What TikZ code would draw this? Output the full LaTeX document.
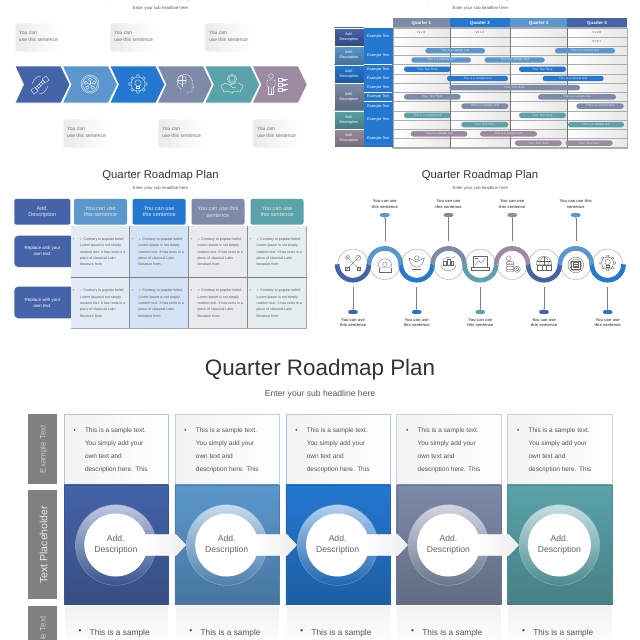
\documentclass[tikz,border=0pt]{standalone}
\usepackage{fontspec}
\setmainfont{Liberation Sans}
\newfontfamily\djv{DejaVu Sans}
\usetikzlibrary{arrows.meta}
\definecolor{cNavy}{HTML}{4463A8}
\definecolor{cSky}{HTML}{5B97CC}
\definecolor{cBlue}{HTML}{2478D0}
\definecolor{cSlate}{HTML}{7D8AA8}
\definecolor{cTeal}{HTML}{5AA3AA}
\definecolor{cMauve}{HTML}{9C8AA0}
\definecolor{cTxt}{HTML}{555555}
\definecolor{cTitle}{HTML}{333333}
\tikzset{
  tx/.style={inner sep=0pt,outer sep=0pt},
  bigtitle/.style={tx,text=cTitle,font=\fontsize{22.4}{23}\selectfont},
  bigsub/.style={tx,text=cTxt,font=\fontsize{8.6}{9}\selectfont},
  title/.style={tx,text=cTitle,font=\fontsize{11.3}{12}\selectfont},
  subt/.style={tx,text=cTxt,font=\fontsize{4.3}{4.5}\selectfont},
  callbox/.style={rounded corners=2.5pt,left color=black!8,right color=white,draw=white,line width=.8pt},
  calltxt/.style={tx,anchor=west,align=left,text=black!55,font=\fontsize{5}{6.6}\selectfont},
  chev/.style={draw=white,line width=.7pt},
  iconw/.style={color=white!85!cSky,line width=.4pt},
  icong/.style={color=black!60,line width=.35pt,scale=.85},
  ghead/.style={tx,text=white,font=\bfseries\fontsize{4.4}{5}\selectfont},
  glabel/.style={tx,text=white,align=center,font=\fontsize{3.7}{5}\selectfont},
  gmini/.style={tx,text=black!65,font=\fontsize{3}{3}\selectfont},
  gbar/.style={tx,rounded corners=2.6pt,minimum height=5.4pt,text=white!90!black,font=\fontsize{3.1}{3}\selectfont},
  hbox/.style={tx,rounded corners=2pt,text=white!90!black,align=center,font=\fontsize{5.6}{6.5}\selectfont},
  sidelbl/.style={tx,text=white,align=center,font=\fontsize{4.5}{6}\selectfont},
  celltxt/.style={tx,anchor=west,align=left,text=cTxt,font=\fontsize{3.55}{6.33}\selectfont},
  wavetxt/.style={tx,align=center,text=cTxt,font=\bfseries\fontsize{4.1}{5.7}\selectfont},
  pill/.style={tx,rounded corners=1.8pt,minimum width=10pt,minimum height=3.8pt},
  leader/.style={draw=black!50,line width=.35pt,-{Stealth[length=1.6pt,width=1.4pt]}},
  sidegray/.style={fill=black!50,draw=none},
  sidetxt/.style={tx,rotate=90,text=white!80!black,font=\fontsize{8}{8}\selectfont},
  sidetxtb/.style={tx,rotate=90,text=white!92!black,font=\fontsize{10.5}{10.5}\selectfont},
  bodytxt/.style={tx,anchor=west,align=left,text=cTxt,font=\fontsize{6.5}{12.9}\selectfont},
  bodytxtb/.style={tx,anchor=west,align=left,text=cTxt,font=\fontsize{8.3}{13}\selectfont},
  circtxt/.style={tx,align=center,text=black!62,font=\fontsize{8.6}{10.6}\selectfont},
  icChain/.pic={
    \draw (-9,5)--(-5,2)--(-2,6)--(-6,9)--cycle;
    \draw (9,-5)--(5,-2)--(2,-6)--(6,-9)--cycle;
    \foreach \t in {-3,-1,1,3} \draw (\t,-\t) circle[radius=1.9];
    \draw (-8,-1) .. controls (-6,-6) and (-3,-9) .. (1,-9);
    \draw (8,1) .. controls (6,6) and (3,9) .. (-1,9);
  },
  icWheel/.pic={
    \draw (0,0) circle[radius=9] (0,0) circle[radius=7.4];
    \foreach \a in {-90,-18,54,126,198} {\draw (\a:4.4) circle[radius=1.7]; \draw (0,0)--(\a:2.7);}
  },
  icGear/.pic={
    \draw (0,0) circle[radius=7];
    \foreach \a in {0,45,...,315} \draw (\a-10:7)--(\a-7:9.2)--(\a+7:9.2)--(\a+10:7);
    \draw (0,-1) circle[radius=3.2];
    \draw (-1.6,2) rectangle (1.6,4.6);
  },
  icHead/.pic={
    \draw (-3,9.5)--(-3,5) .. controls (-9,2) and (-8,-9) .. (0,-9.5) .. controls (7,-9.5) and (9,-4) .. (8,-1)--(10,3)--(8,4)--(8,8)--(3,8)--(3,9.5);
    \draw (-2,-4) circle[radius=4.4];
    \draw (-2,-8.4)--(-2,3) (-6,-4)--(2,-4);
  },
  icHands/.pic={
    \draw (0,-5) circle[radius=3] (0,-5) circle[radius=4.6];
    \draw (-11,2)--(-7,-1)--(-2,1)--(3,-1)--(7,-1)--(11,2)--(8,8)--(2,7)--(0,9)--(-3,7)--(-8,8)--cycle;
    \draw (-2,1)--(1,4)--(4,3);
  },
  icPerson/.pic={
    \draw (-7,-8) circle[radius=2.4];
    \draw[rounded corners=1pt] (-11,-4) rectangle (-3,3);
    \draw (-9.5,3)--(-9.5,10)--(-7,10)--(-7,4)--(-7,10)--(-4.5,10)--(-4.5,3);
    \foreach \y in {-6,-1,4} {\draw (0,\y) rectangle (4,\y+3.4); \draw (5,\y+1)--(10,\y+1) (5,\y+2.6)--(8,\y+2.6);}
  },
  icTools/.pic={
    \draw (-8,-8)--(8,8) (8,-8)--(-8,8);
    \draw (-6,-9)--(-9,-6)--(-7,-4)--(-4,-7)--cycle;
    \draw (5,5) rectangle (9,9) (-9,5) rectangle (-5,9);
    \draw (6,-6) circle[radius=3];
  },
  icPhone/.pic={
    \draw (-8,1) .. controls (-8,-10) and (8,-10) .. (8,1)--(5,3)--(-5,3)--cycle;
    \draw (0,-1) circle[radius=2.6];
    \draw (-7,3)--(-7,8)--(7,8)--(7,3);
  },
  icWings/.pic={
    \draw (-9,-6) .. controls (-8,2) and (-4,4) .. (0,5) .. controls (4,4) and (8,2) .. (9,-6) .. controls (5,-3) and (3,-4) .. (0,-1) .. controls (-3,-4) and (-5,-3) .. (-9,-6);
    \draw (0,-6) circle[radius=2.5];
    \draw (-5,7)--(5,7);
  },
  icBowl/.pic={
    \draw (-9,0) .. controls (-8,9) and (8,9) .. (9,0)--cycle;
    \draw (-6,0) rectangle (-3,-4) (-1.5,0) rectangle (1.5,-7) (3,0) rectangle (6,-5);
    \draw (-7,-6)--(-2,-9)--(3,-8)--(8,-10);
  },
  icLaptop/.pic={
    \draw (-8,-8) rectangle (8,5) (-10.5,5) rectangle (10.5,8);
    \draw (-6,2)--(-2,-3)--(1,0)--(6,-6);
    \draw (-6,-6)--(-3,-6);
  },
  icCoins/.pic={
    \draw (-4,-8) circle[radius=2.8];
    \foreach \y in {-4,-1,2,5} \draw[rounded corners=1pt] (-7,\y) rectangle (2,\y+3);
    \draw (6,5) circle[radius=3.6] (6,5) circle[radius=1.8];
  },
  icGlobe/.pic={
    \draw (-9,2) .. controls (-9,-11) and (9,-11) .. (9,2)--cycle;
    \draw (0,-7.5)--(0,2) (-8.5,-2)--(8.5,-2);
    \draw (0,-7.5) .. controls (-5,-6) and (-5,-1) .. (-5,2) (0,-7.5) .. controls (5,-6) and (5,-1) .. (5,2);
    \draw (-8,2) rectangle (8,8) (-2,2) rectangle (2,8);
  },
  icTarget/.pic={
    \draw (0,0) circle[radius=9.2] (0,0) circle[radius=7];
    \draw (-5,-5) rectangle (5,5) (-3,-3) rectangle (3,3);
    \draw (-3,-1)--(3,-1) (-3,1)--(3,1);
  },
}
\begin{document}
\begin{tikzpicture}[x=1pt,y=-1pt]
\useasboundingbox (0,0) rectangle (640,640);
\fill[white] (0,0) rectangle (640,640);
\clip (0,0) rectangle (640,640);

% ---------- Panel 1: chevrons
\node[title] (t1) at (161,-4) {Quarter Roadmap Plan};
\node[subt] (s1) at (160.5,8) {Enter your sub headline here};
\foreach \xx/\yy/\n in {15/23/a,110/23/b,205/23/c,63/119/d,158/119/e,253/119/f}{
  \shade[callbox] (\xx,\yy) rectangle ++(47,29);
  \node[calltxt] (call\n) at (\xx+4,\yy+13.5) {You can\\use this sentence};
}
\foreach \i/\c in {0/cNavy,1/cSky,2/cBlue,3/cSlate,4/cTeal,5/cMauve}{
  \pgfmathsetmacro\X{15+47.45*\i}
  \path[chev,fill=\c] (\X,66)--(\X+46,66)--(\X+55,84.5)--(\X+46,103)--(\X,103)--(\X+8.5,84.5)--cycle;
}
\pic[iconw] at (40,85) {icChain};
\pic[iconw] at (90,84) {icWheel};
\pic[iconw] at (138,84) {icGear};
\pic[iconw] at (184,84) {icHead};
\pic[iconw] at (232,84) {icHands};
\pic[iconw] at (278,84) {icPerson};

% ---------- Panel 2: gantt
\node[title] (t2) at (480,-4) {Quarter Roadmap Plan};
\node[subt] (s2) at (480.3,8) {Enter your sub headline here};
\foreach \a/\b/\c/\t in {392.7/450/cSlate/Quarter 1,450/510/cBlue/Quarter 2,510/567.3/cSky/Quarter 3,567.3/626.7/cNavy/Quarter 4}{
  \fill[\c] (\a,18) rectangle (\b,27.7);
  \shade[left color=white,right color=black!9,draw=black!32,line width=.4pt] (\a,27.7) rectangle (\b,147.7);
  \node[ghead] (h\a) at ({(\a+\b)/2},22.9) {\t};
}
\foreach \r in {0,...,13}{
  \pgfmathsetmacro\Y{27.7+9.23*\r}
  \draw[black!32,line width=.5pt] (392.7,\Y)--(626.7,\Y);
}
\foreach \a in {392.7,450,510,567.3}{\draw[black!55,line width=.45pt] (\a,27.7)--(\a,147.7);}
\foreach \p/\q/\c in {0/2/cNavy,2/4/cSky,4/6/cBlue,6/9/cSlate,9/11/cTeal,11/13/cMauve}{
  \pgfmathsetmacro\Ya{27.7+9.23*\p}
  \pgfmathsetmacro\Yb{27.7+9.23*\q}
  \shade[top color=\c,bottom color=\c!75!black,draw=white,line width=.3pt] (334.3,\Ya+.1) rectangle (363.7,\Yb-.1);
  \node[glabel] (g\p) at (349,{(\Ya+\Yb)/2}) {Add.\\Description};
}
\foreach \p/\q in {0/2,2/4,4/5,5/6,6/7,7/8,8/9,9/11,11/13}{
  \pgfmathsetmacro\Ya{27.7+9.23*\p}
  \pgfmathsetmacro\Yb{27.7+9.23*\q}
  \fill[cBlue] (363.7,\Ya+.2) rectangle (392.7,\Yb-.2);
  \node[glabel] (e\p) at (378.2,{(\Ya+\Yb)/2}) {Example Text};
}
\node[gmini] (v1) at (421,32.3) {V1.2.0};
\node[gmini] (v2) at (480,32.3) {V1.1.0};
\node[gmini] (v3) at (596.7,32.3) {V1.0.0};
\node[gmini] (v4) at (596.7,41.6) {V1.0.1};
\foreach \r/\a/\b/\c/\t [count=\n] in {
 2/316/495/cSky/This is a sample text, 2/705/885/cSky/This is a sample text,
 3/274/453/cSky/This is a sample text, 3/494/674/cSky/This is a sample text,
 4/252/392/cBlue/Your Text Here, 4/597/738/cBlue/Your Text Here,
 5/381/564/cBlue/This is a sample text, 5/668/851/cBlue/This is a sample text,
 6/388/780/cSlate/Your Text Here,
 7/252/422/cSlate/Your Text Here, 7/654/888/cSlate/This is a sample text,
 8/424/565/cSlate/This is a sample text, 8/769/911/cSlate/This is a sample text,
 9/252/392/cTeal/This is a sample text, 9/597/738/cTeal/Your Text Here,
 10/424/565/cTeal/Your Text Here, 10/744/912/cTeal/This is a sample text,
 11/272/442/cMauve/This is a sample text, 11/480/651/cMauve/This is a sample text,
 12/585/725/cMauve/Your Text Here, 12/737/878/cMauve/Your Text Here}{
  \pgfmathsetmacro\W{(\b-\a)/3}
  \pgfmathsetmacro\Mx{320+(\a+\b)/6}
  \pgfmathsetmacro\My{27.7+9.23*\r+4.6}
  \node[gbar,fill=\c,minimum width=\W pt] (bar\n) at (\Mx,\My) {\t};
}

% ---------- Panel 3: table
\node[title] (t3) at (160.5,176) {Quarter Roadmap Plan};
\node[subt] (s3) at (160.5,188) {Enter your sub headline here};
\node[hbox,fill=cNavy,minimum width=56pt,minimum height=25.7pt] (ha) at (42.3,211.8) {Add.\\Description};
\node[hbox,fill=cSky,minimum width=53pt,minimum height=25.7pt] (hb) at (100.5,211.8) {You can use\\this sentence};
\node[hbox,fill=cBlue,minimum width=53pt,minimum height=25.7pt] (hc) at (159.2,211.8) {You can use\\this sentence};
\node[hbox,fill=cSlate,minimum width=53pt,minimum height=25.7pt] (hd) at (218,211.8) {You can use this\\sentence};
\node[hbox,fill=cTeal,minimum width=53pt,minimum height=25.7pt] (he) at (277,211.8) {You can use\\this sentence};
\foreach \Ya/\Yb/\n in {235.7/267/a,286.7/318.3/b}{
  \fill[cNavy,rounded corners=4pt] (14.3,\Ya) rectangle (80,\Yb);
  \node[sidelbl] (rep\n) at (42.6,{(\Ya+\Yb)/2}) {Replace with your\\own text.};
}
\definecolor{tA}{HTML}{E2EBF5}\definecolor{tB}{HTML}{D3E3F5}\definecolor{tC}{HTML}{E8EAEE}\definecolor{tD}{HTML}{E4EDEF}
\foreach \a/\b/\c in {70.7/129.3/tA,129.3/188.3/tB,188.3/247.3/tC,247.3/306.7/tD}{
  \fill[\c] (\a,225.7) rectangle (\b,328.3);
  \foreach \Yc in {252,303.2}{
    \node[celltxt,text=black!65] (bu\a\Yc) at (\a+2.5,\Yc-12.7) {\textbullet};
    \node[celltxt] (ce\a\Yc) at (\a+9.3,\Yc) {{\djv\fontsize{3.2}{6.33}\selectfont ✓} Contrary to popular belief,\\Lorem Ipsum is not simply\\random text. It has roots in a\\piece of classical Latin\\literature from};
  }
}
\foreach \a in {129.3,188.3,247.3}{\draw[black!45,line width=.5pt] (\a,225.7)--(\a,328.3);}
\draw[black!35,line width=.5pt] (306.7,225.7)--(306.7,328.3);
\draw[black!50,line width=.5pt] (70.7,277.3)--(306.7,277.3);
\draw[black!35,line width=.5pt] (70.7,328.3)--(306.7,328.3);

% ---------- Panel 4: wave
\node[title] (t4) at (480,176) {Quarter Roadmap Plan};
\node[subt] (s4) at (480.3,188) {Enter your sub headline here};
\foreach \i/\c/\ic in {0/cNavy/icTools,2/cBlue/icWings,4/cTeal/icLaptop,6/cNavy/icGlobe,8/cBlue/icGear}{
  \pgfmathsetmacro\X{353+31.83*\i}
  \draw[black!45,line width=.3pt] (\X-15.2,264.3) .. controls (\X-15.2,256) and (\X-8.4,249.1) .. (\X,249.1) .. controls (\X+8.4,249.1) and (\X+15.2,256) .. (\X+15.2,264.3);
  \draw[\c,line width=4.7pt] (\X-15.9,264.3) .. controls (\X-15.9,273.1) and (\X-8.8,280.2) .. (\X,280.2) .. controls (\X+8.8,280.2) and (\X+15.9,273.1) .. (\X+15.9,264.3);
  \pic[icong] at (\X,263) {\ic};
  \node[pill,fill=\c] (plo\i) at (\X,312) {};
  \coordinate (cl\i) at (\X,287);
  \draw[leader] (cl\i)--(plo\i);
  \node[wavetxt] (wlo\i) at (\X,322.5) {You can use\\this sentence};
}
\foreach \i/\c/\ic/\tt in {1/cSky/icPhone/You can use\\this sentence,3/cSlate/icBowl/You can use\\this sentence,5/cMauve/icCoins/You can use\\this sentence,7/cSky/icTarget/You can use this\\sentence}{
  \pgfmathsetmacro\X{353+31.83*\i}
  \draw[black!45,line width=.3pt] (\X-15.2,264.3) .. controls (\X-15.2,272.7) and (\X-8.4,279.5) .. (\X,279.5) .. controls (\X+8.4,279.5) and (\X+15.2,272.7) .. (\X+15.2,264.3);
  \draw[\c,line width=4.7pt] (\X-15.9,264.3) .. controls (\X-15.9,255.5) and (\X-8.8,248.4) .. (\X,248.4) .. controls (\X+8.8,248.4) and (\X+15.9,255.5) .. (\X+15.9,264.3);
  \pic[icong] at (\X,265) {\ic};
  \node[pill,fill=\c] (pup\i) at (\X,215) {};
  \coordinate (cu\i) at (\X,241);
  \draw[leader] (cu\i)--(pup\i);
  \node[wavetxt] (wup\i) at (\X,204.2) {\tt};
}

% ---------- Panel 5: large
\node[bigtitle] (t5) at (320,370) {Quarter Roadmap Plan};
\node[bigsub] (s5) at (320,394.3) {Enter your sub headline here};
\fill[sidegray] (28.3,414) rectangle (57.3,484);
\fill[sidegray] (28.3,490) rectangle (57.3,599.3);
\fill[sidegray] (28.3,605.7) rectangle (57.3,675.7);
\node[sidetxt] (sa) at (43.5,449) {Example Text};
\node[sidetxtb] (sb) at (43.5,544.7) {Text Placeholder};
\node[sidetxt] (sc) at (43.5,640.7) {Example Text};
\foreach \i/\c in {0/cNavy,1/cSky,2/cBlue,3/cSlate,4/cTeal}{
  \pgfmathsetmacro\X{64+110.9*\i}
  \pgfmathsetmacro\Xb{\X+104.3}
  \shade[left color=black!5,right color=white,draw=\c!40!white,line width=.45pt] (\X,414) rectangle (\Xb,484.7);
  \shade[top color=\c,bottom color=\c!78!black,draw=\c!85!black,line width=.3pt] (\X,484.7) rectangle (\Xb,605.3);
  \shade[top color=black!5,bottom color=white,draw=white,line width=.5pt] (\X,605.6) rectangle (\Xb,650);
  \node[bodytxt,text=black!75] (bua\i) at (\X+9.5,431) {\textbullet};
  \node[bodytxt] (tp\i) at (\X+21,450) {This is a sample text.\\You simply add your\\own text and\\description here. This};
  \node[bodytxtb,text=black!75] (bub\i) at (\X+14.5,632) {\textbullet};
  \node[bodytxtb] (bt\i) at (\X+25.7,639.8) {This is a sample\\text. You simply};
}
\foreach \i/\c in {0/cNavy,1/cSky,2/cBlue,3/cSlate,4/cTeal}{
  \pgfmathsetmacro\Cx{64+110.9*\i+51.8}
  \shade[top color=\c!35!white,bottom color=\c!85!black,draw=\c!65!white,line width=.3pt] (\Cx,545) circle[radius=40.3];
}
\foreach \i in {0,1,2,3}{
  \pgfmathsetmacro\Cx{64+110.9*\i+51.8}
  \shade[left color=white,right color=black!7,draw=white,line width=.3pt] (\Cx+28,534.3)--(\Cx+60,534.3)--(\Cx+70,545)--(\Cx+60,555.7)--(\Cx+28,555.7)--cycle;
}
\foreach \i in {0,1,2,3,4}{
  \pgfmathsetmacro\Cx{64+110.9*\i+51.8}
  \fill[white] (\Cx,545) circle[radius=31.5];
  \node[circtxt] (ct\i) at (\Cx,545) {Add.\\Description};
}
\end{tikzpicture}
\end{document}
